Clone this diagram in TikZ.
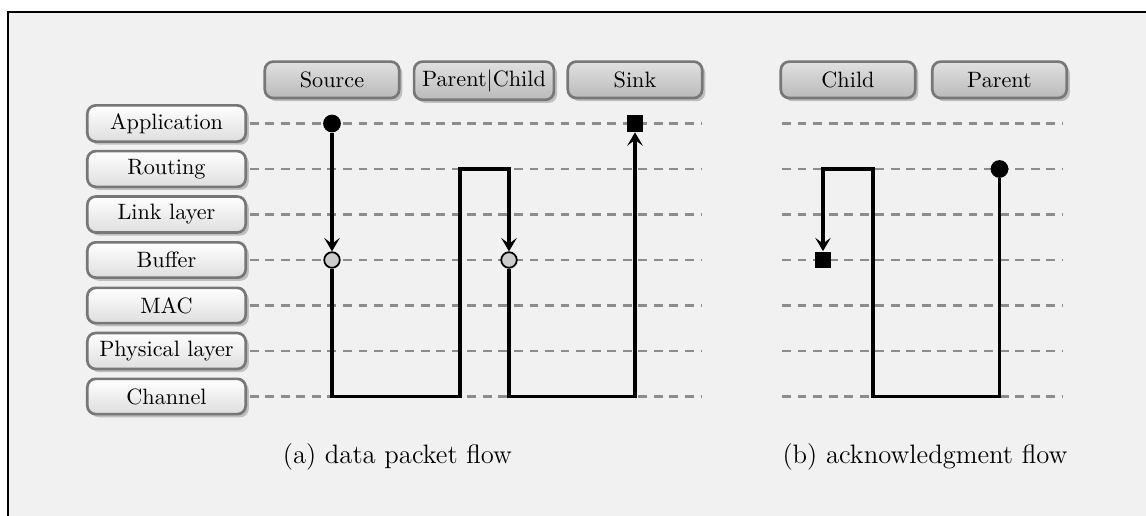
\documentclass[tikz,border=0pt]{standalone}
\usetikzlibrary{shadows,arrows.meta}
\definecolor{bgpanel}{HTML}{F1F1F1}
\definecolor{boxline}{HTML}{777777}
\definecolor{gridline}{HTML}{8C8C8C}
\tikzset{
  layerbox/.style={draw=boxline, line width=1.2pt, rounded corners=3.8pt,
    top color=white, bottom color=black!13, minimum width=71.3pt,
    minimum height=15.9pt, inner sep=3.6pt,
    drop shadow={shadow xshift=1.4pt, shadow yshift=-1.4pt, fill=black!25, opacity=1}},
  headbox/.style={draw=boxline, line width=1.2pt, rounded corners=3.8pt,
    top color=black!12, bottom color=black!27, minimum width=60.5pt,
    minimum height=16.4pt, inner sep=3.6pt, anchor=north,
    drop shadow={shadow xshift=1.4pt, shadow yshift=-1.4pt, fill=black!25, opacity=1}},
  gridrow/.style={draw=gridline, line width=1pt, dash pattern=on 4pt off 3pt},
  flow/.style={line width=1.4pt, draw=black},
  flowarrow/.style={flow, -{Stealth[length=6pt,width=7pt,inset=2.6pt]}},
  startdot/.style={circle, fill=black, inner sep=0pt, minimum size=8pt},
  bufdot/.style={circle, draw=black, fill=black!20, line width=0.8pt, inner sep=0pt, minimum size=7pt},
  enddot/.style={rectangle, fill=black, inner sep=0pt, minimum size=7.6pt},
  caption/.style={font=\large}
}
\begin{document}
\begin{tikzpicture}[x=0.45026pt, y=-0.45026pt]
\useasboundingbox (0,0) rectangle (1146,516);
\clip (0,0) rectangle (1146,516);
% panel background and frame
\draw[fill=bgpanel, line width=0.5pt] (8,12) rectangle (1200,560);

% layer names
\node[layerbox] (lApp) at (166.5,123.5) {Application};
\node[layerbox] (lRout) at (166.5,169) {Routing};
\node[layerbox] (lLink) at (166.5,214.5) {Link layer};
\node[layerbox] (lBuf) at (166.5,260) {Buffer};
\node[layerbox] (lMac) at (166.5,305.5) {MAC};
\node[layerbox] (lPhy) at (166.5,351) {Physical layer};
\node[layerbox] (lChan) at (166.5,396.5) {Channel};

% node roles
\node[headbox] (hSrc) at (332,60.3) {Source};
\node[headbox] (hPC) at (484,60.3) {Parent|Child};
\node[headbox] (hSink) at (635,60.3) {Sink};
\node[headbox] (hChild) at (848,60.3) {Child};
\node[headbox] (hPar) at (999.5,60.3) {Parent};

% dashed layer rows
\foreach \nm/\yy in {App/123.5, Rout/169, Link/214.5, Buf/260, Mac/305.5, Phy/351, Chan/396.5}{
  \coordinate (a\nm) at (702,\yy);
  \coordinate (bs\nm) at (782,\yy);
  \coordinate (be\nm) at (1062,\yy);
  \draw[gridrow] ([xshift=1.2pt]l\nm.east) -- (a\nm);
  \draw[gridrow] (bs\nm) -- (be\nm);
}

% (a) data packet flow
\node[startdot] (s1) at (332,123.5) {};
\node[bufdot] (b1) at (332,260) {};
\node[bufdot] (b2) at (509,260) {};
\node[enddot] (k1) at (635,123.5) {};
\coordinate (c1) at (332,396.5);
\coordinate (c2) at (460,396.5);
\coordinate (c3) at (460,169);
\coordinate (c4) at (509,169);
\coordinate (c5) at (509,396.5);
\coordinate (c6) at (635,396.5);
\draw[flowarrow] (s1) -- (b1);
\draw[flowarrow] (b1) -- (c1) -- (c2) -- (c3) -- (c4) -- (b2);
\draw[flowarrow] (b2) -- (c5) -- (c6) -- (k1);

% (b) acknowledgment flow
\node[startdot] (p1) at (999.5,169) {};
\node[enddot] (q1) at (823,260) {};
\coordinate (d1) at (999.5,396.5);
\coordinate (d2) at (873,396.5);
\coordinate (d3) at (873,169);
\coordinate (d4) at (823,169);
\draw[flowarrow] (p1) -- (d1) -- (d2) -- (d3) -- (d4) -- (q1);

% captions
\node[caption] (capA) at (397.5,457) {(a) data packet flow};
\node[caption] (capB) at (925,457) {(b) acknowledgment flow};
\end{tikzpicture}
\end{document}
